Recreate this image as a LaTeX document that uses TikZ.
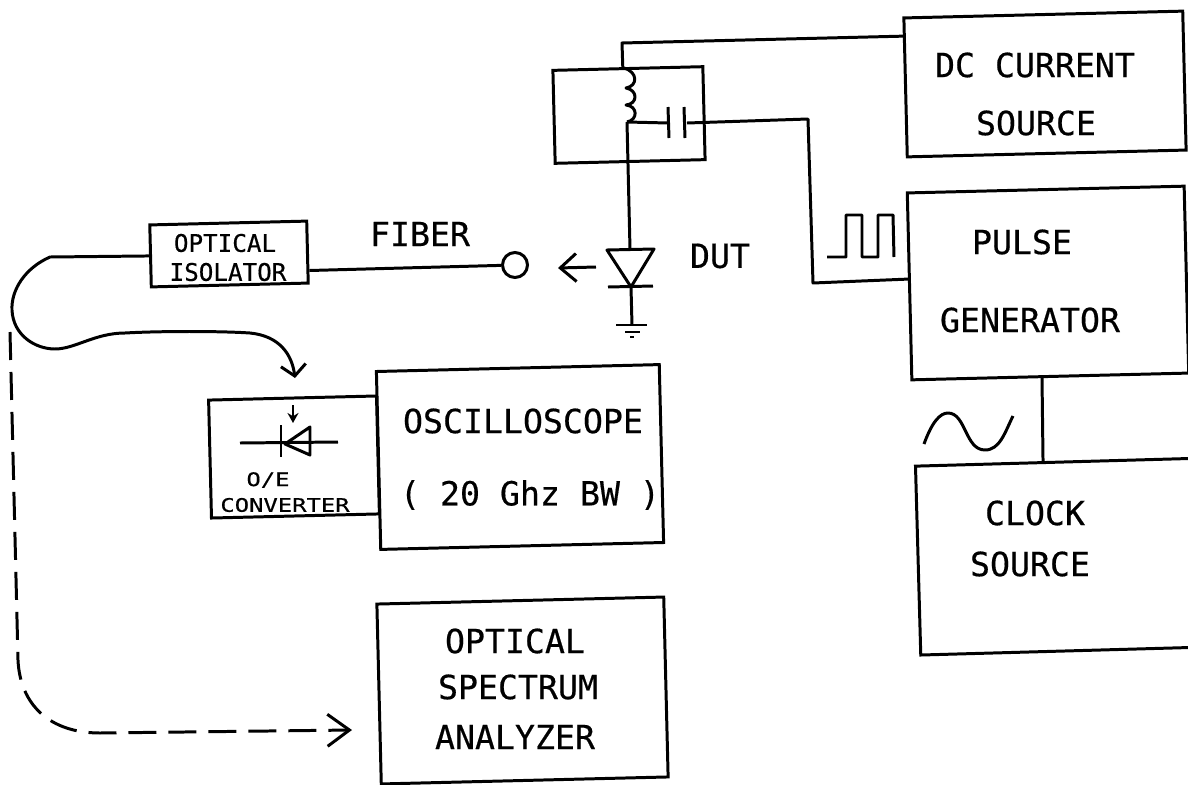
\documentclass[tikz,border=0pt]{standalone}
\usepackage{fontspec}
\setmonofont[FakeBold=0.5]{DejaVu Sans Mono}
\newfontfamily\widemono[FakeBold=0.5,FakeStretch=1.28]{DejaVu Sans Mono}
\usetikzlibrary{arrows.meta}

\tikzset{
  blockbox/.style={draw,line width=1.7pt,inner sep=0pt,rotate=1.4},
  wire/.style={line width=1.7pt,line join=round},
  bigtext/.style={font=\fontsize{18.9}{22}\selectfont\ttfamily,inner sep=0pt},
  smalltext/.style={font=\fontsize{13.8}{16}\selectfont\ttfamily,inner sep=0pt},
  widetext/.style={font=\fontsize{10.6}{12}\selectfont\widemono,inner sep=0pt},
  dashline/.style={wire,dash pattern=on 0.56cm off 0.24cm}
}

\begin{document}
\begin{tikzpicture}[x=0.02cm,y=-0.02cm]

\clip (0,0) rectangle (1188,785);

% Blocks
\node[blockbox,minimum width=5.58cm,minimum height=2.78cm] (dcsource) at (1045,84) {};
\node[blockbox,minimum width=5.54cm,minimum height=3.74cm] (pulsegen) at (1048,283) {};
\node[blockbox,minimum width=8cm,minimum height=3.78cm,rotate=0.2] (clocksource) at (1118,555) {};
\node[blockbox,minimum width=5.66cm,minimum height=3.56cm] (scope) at (520,457) {};
\node[blockbox,minimum width=5.74cm,minimum height=3.6cm] (spectrum) at (522.5,690.5) {};
\node[blockbox,minimum width=3.36cm,minimum height=2.36cm] (converter) at (294,457) {};
\node[blockbox,minimum width=3.14cm,minimum height=1.24cm] (isolator) at (229,254) {};
\node[blockbox,minimum width=3.0cm,minimum height=1.86cm] (biastee) at (629,115) {};
\node[draw,line width=1.7pt,circle,inner sep=0pt,minimum size=0.5cm] (fiberend) at (515,265) {};

% Block labels
\node[bigtext] (dclabel) at (1035,65) {DC CURRENT};
\node[bigtext] (dclabelb) at (1036,123) {SOURCE};
\node[bigtext] (pulselabel) at (1022,242) {PULSE};
\node[bigtext] (pulselabelb) at (1030,320) {GENERATOR};
\node[bigtext] (clocklabel) at (1035,513) {CLOCK};
\node[bigtext] (clocklabelb) at (1030,564) {SOURCE};
\node[bigtext] (scopelabel) at (523,421) {OSCILLOSCOPE};
\node[bigtext] (scopelabelb) at (530,495) {( 20 Ghz BW )};
\node[bigtext] (speclabel) at (515,641) {OPTICAL};
\node[bigtext] (speclabelb) at (518,687) {SPECTRUM};
\node[bigtext] (speclabelc) at (515,737) {ANALYZER};
\node[bigtext] (dutlabel) at (720,256) {DUT};
\node[bigtext] (fiberlabel) at (420,234) {FIBER};
\node[smalltext] (isolabel) at (225,243) {OPTICAL};
\node[smalltext] (isolabelb) at (228,272) {ISOLATOR};
\node[widetext] (oelabel) at (268,480) {O/E};
\node[widetext] (oelabelb) at (285,505) {CONVERTER};

% DC feed and coil
\coordinate (dccorner) at (622,43);
\coordinate (coilstart) at (624,68);
\coordinate (tee) at (627,122);
\coordinate (diodetop) at (630,249);
\draw[wire] (dcsource.160.5) -- (dccorner) -- (biastee.96);
\draw[wire] (coilstart) .. controls (638,72) and (638,86) .. (626,88)
  .. controls (638,90) and (638,104) .. (626,105)
  .. controls (638,106) and (638,120) .. (tee);

% Capacitor
\coordinate (platea) at (668,123);
\coordinate (plateb) at (687,123);
\coordinate (pulsecorner) at (808,119);
\coordinate (pulselow) at (813,283);
\draw[wire] (tee) -- (platea);
\draw[wire] (668,107) -- (669,138);
\draw[wire] (684,107) -- (685,138);
\draw[wire] (plateb) -- (pulsecorner) -- (pulselow) -- (pulsegen.177.8);

% DUT with ground
\coordinate (diodetip) at (631,287);
\coordinate (gnd) at (632,325);
\draw[wire] (tee) -- (diodetop);
\draw[wire] (607,250) -- (654,249) -- (diodetip) -- cycle;
\draw[wire] (608,287) -- (653,286);
\draw[wire] (diodetip) -- (gnd);
\draw[wire] (616,325) -- (647,325);
\draw[wire] (625,332) -- (640,332);
\draw[wire] (630,337) -- (634,337);
\draw[wire,-{Straight Barb[length=0.32cm,width=0.56cm]}] (596,267) -- (558,268);

% Fiber path
\coordinate (fiberbend) at (50,257);
\draw[wire] (fiberend) -- (isolator.-13.9);
\draw[wire,-{Straight Barb[length=0.22cm,width=0.5cm]}] (isolator.180.8) -- (fiberbend)
  .. controls (25,268) and (11,290) .. (12,310)
  .. controls (13,335) and (35,349) .. (55,349)
  .. controls (75,349) and (95,333) .. (125,333)
  .. controls (160,331) and (220,331) .. (250,333)
  .. controls (280,336) and (292,355) .. (295,378);

% Dashed branch to the analyzer
\draw[dashline,-{Straight Barb[length=0.44cm,width=0.64cm]}] (10,332) -- (18,660)
  .. controls (20,705) and (50,733) .. (100,733)
  -- (352,730);

% Photodiode
\draw[wire] (240,443) -- (338,442);
\draw[wire] (281,425) -- (281,457);
\draw[wire] (310,427) -- (310,455) -- (285,444) -- cycle;
\draw[wire,-{Stealth[length=0.2cm,width=0.22cm]}] (293,405) -- (293,423);

% Pulse waveform
\draw[wire] (827,257) -- (846,257) -- (846,215) -- (862,215) -- (862,257) -- (878,257) -- (878,215) -- (893,215) -- (894,257);

% Sine and clock link
\draw[wire] (924,444) .. controls (932,422) and (940,413) .. (948,413)
  .. controls (966,413) and (965,450) .. (985,450)
  .. controls (1000,450) and (1005,432) .. (1013,416);
\draw[wire] (pulsegen.265.7) -- (clocksource.127.2);

\end{tikzpicture}
\end{document}
